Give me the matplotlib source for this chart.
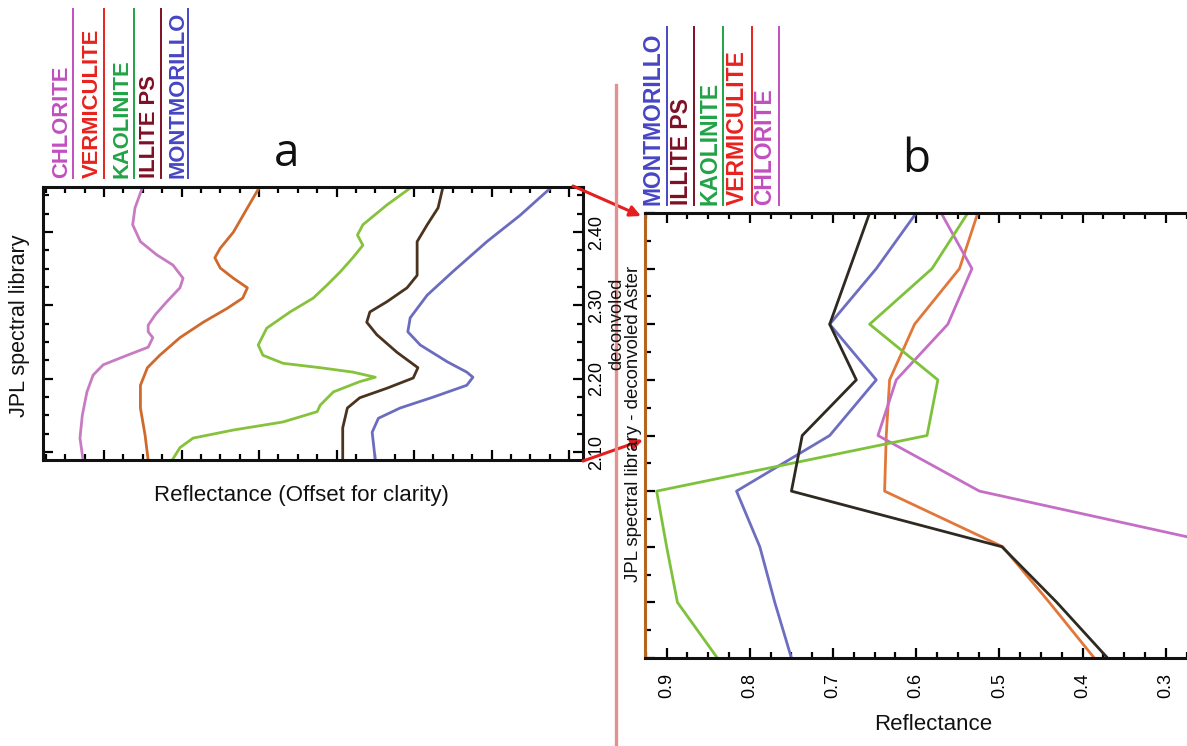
import numpy as np
import matplotlib
matplotlib.use("Agg")
import matplotlib.pyplot as plt
from matplotlib.ticker import MultipleLocator, FormatStrFormatter, NullFormatter
from matplotlib.patches import FancyArrowPatch
from matplotlib.lines import Line2D

plt.rcParams['font.family'] = ['Liberation Sans', 'DejaVu Sans']

# ---------------- data : panel a (JPL library, offset reflectance) ----------------
chl_a_wl = [2.462, 2.433, 2.410, 2.387, 2.369, 2.355, 2.337, 2.324, 2.305, 2.287, 2.273,
            2.264, 2.256, 2.243, 2.232, 2.219, 2.205, 2.182, 2.150, 2.119, 2.089]
chl_a_x = [0.50, 0.40, 0.37, 0.47, 0.68, 0.89, 1.02, 0.98, 0.81, 0.66, 0.57,
           0.57, 0.63, 0.57, 0.30, -0.01, -0.14, -0.22, -0.28, -0.31, -0.27]

ver_a_wl = [2.462, 2.433, 2.400, 2.378, 2.365, 2.351, 2.337, 2.324, 2.310, 2.296, 2.277,
            2.256, 2.232, 2.215, 2.191, 2.160, 2.123, 2.089]
ver_a_x = [2.01, 1.85, 1.67, 1.50, 1.43, 1.50, 1.67, 1.85, 1.79, 1.59, 1.28,
           0.98, 0.72, 0.56, 0.47, 0.47, 0.53, 0.57]

kao_a_wl = [2.460, 2.437, 2.410, 2.396, 2.382, 2.365, 2.346, 2.328, 2.310, 2.291, 2.269,
            2.246, 2.232, 2.221, 2.215, 2.209, 2.202, 2.196, 2.182, 2.164, 2.155, 2.141,
            2.130, 2.119, 2.106, 2.089]
kao_a_x = [3.95, 3.65, 3.34, 3.27, 3.34, 3.21, 3.05, 2.88, 2.70, 2.40, 2.10,
           1.99, 2.05, 2.31, 2.79, 3.21, 3.50, 3.30, 2.96, 2.79, 2.75, 2.31,
           1.67, 1.15, 0.98, 0.88]

ill_a_wl = [2.460, 2.433, 2.410, 2.387, 2.355, 2.341, 2.324, 2.305, 2.291, 2.277, 2.260,
            2.236, 2.215, 2.201, 2.187, 2.174, 2.160, 2.133, 2.089]
ill_a_x = [4.37, 4.31, 4.17, 4.04, 4.04, 4.04, 3.91, 3.65, 3.43, 3.39, 3.52,
           3.78, 4.05, 3.99, 3.65, 3.30, 3.14, 3.08, 3.08]

mon_a_wl = [2.460, 2.423, 2.387, 2.346, 2.314, 2.283, 2.264, 2.246, 2.223, 2.209, 2.202,
            2.191, 2.175, 2.160, 2.146, 2.127, 2.089]
mon_a_x = [5.76, 5.37, 4.94, 4.50, 4.17, 3.95, 3.92, 4.08, 4.43, 4.68, 4.76,
           4.68, 4.25, 3.82, 3.54, 3.46, 3.50]

a_yticks = [2.10, 2.20, 2.30, 2.40]

# ---------------- data : panel b (deconvolved) ----------------
b_levels = [8, 7, 6, 5, 4, 3, 2, 1, 0]
mon_b = [0.600, 0.648, 0.704, 0.648, 0.704, 0.816, 0.788, 0.770, 0.750]
ill_b = [0.656, 0.680, 0.704, 0.672, 0.737, 0.750, 0.497, 0.431, 0.370]
kao_b = [0.538, 0.581, 0.656, 0.574, 0.587, 0.912, 0.900, 0.887, 0.839]
ver_b = [0.526, 0.548, 0.602, 0.632, 0.636, 0.638, 0.496, 0.440, 0.386]
chl_b = [0.570, 0.533, 0.562, 0.624, 0.646, 0.524, 0.220, np.nan, np.nan]
b_xticks = [0.9, 0.8, 0.7, 0.6, 0.5, 0.4, 0.3]

legend_a = ["CHLORITE", "VERMICULITE", "KAOLINITE", "ILLITE PS", "MONTMORILLO"]
legend_b = ["MONTMORILLO", "ILLITE PS", "KAOLINITE", "VERMICULITE", "CHLORITE"]
label_colors = {"CHLORITE": "#c24fc0", "VERMICULITE": "#e8221e", "KAOLINITE": "#22a346",
                "ILLITE PS": "#7e0f25", "MONTMORILLO": "#4646c6"}

# ---------------- figure ----------------
W, H = 1187, 746
fig = plt.figure(figsize=(W / 100, H / 100), dpi=100)
fig.patch.set_facecolor("white")


def fx(x):
    return x / W


def fy(y):
    return 1 - y / H


# ---------- panel a ----------
axa = fig.add_axes([fx(43), fy(460), 540 / W, 273 / H])
axa.plot(chl_a_x, chl_a_wl, color="#c77cc2", lw=2.0, solid_joinstyle="round")
axa.plot(ver_a_x, ver_a_wl, color="#cf6a2c", lw=2.0, solid_joinstyle="round")
axa.plot(kao_a_x, kao_a_wl, color="#86c23c", lw=2.0, solid_joinstyle="round")
axa.plot(ill_a_x, ill_a_wl, color="#4a3420", lw=2.0, solid_joinstyle="round")
axa.plot(mon_a_x, mon_a_wl, color="#6c6cbf", lw=2.0, solid_joinstyle="round")
axa.set_xlim(-0.787, 6.18)
axa.set_ylim(2.0891, 2.4615)
axa.xaxis.set_major_locator(MultipleLocator(1))
axa.xaxis.set_minor_locator(MultipleLocator(0.25))
axa.set_yticks(a_yticks)
axa.yaxis.set_minor_locator(MultipleLocator(0.025))
axa.yaxis.set_major_formatter(FormatStrFormatter("%.2f"))
axa.tick_params(axis="both", which="both", direction="in", top=True, bottom=True,
                left=True, right=True, labelbottom=False, labelleft=False,
                labelright=True, color="black", width=1.6)
axa.tick_params(which="major", length=7)
axa.tick_params(which="minor", length=4)
axa.tick_params(axis="y", which="major", labelsize=13, labelrotation=90, pad=4)
for lab in axa.get_yticklabels():
    lab.set_va("center")
for s in axa.spines.values():
    s.set_linewidth(2.2)
    s.set_color("#111111")

# ---------- panel b ----------
axb = fig.add_axes([fx(645), fy(658), 604 / W, 445 / H])
axb.plot(mon_b, b_levels, color="#6d6dc2", lw=2.0)
axb.plot(ver_b, b_levels, color="#e2773a", lw=2.0)
axb.plot(chl_b, b_levels, color="#c46ec6", lw=2.0)
axb.plot(kao_b, b_levels, color="#7ec23c", lw=2.0)
axb.plot(ill_b, b_levels, color="#2e2a22", lw=2.0)
axb.set_xlim(0.926, 0.2)
axb.set_ylim(0, 8)
axb.set_xticks(b_xticks)
axb.xaxis.set_minor_locator(MultipleLocator(0.025))
axb.xaxis.set_major_formatter(FormatStrFormatter("%.1f"))
axb.yaxis.set_major_locator(MultipleLocator(1))
axb.yaxis.set_minor_locator(MultipleLocator(0.5))
axb.yaxis.set_major_formatter(NullFormatter())
axb.tick_params(axis="both", which="both", direction="in", top=True, bottom=True,
                left=True, right=False, labelleft=False, color="black", width=1.6)
axb.tick_params(which="major", length=7)
axb.tick_params(which="minor", length=4)
axb.tick_params(axis="x", which="major", labelsize=13, labelrotation=90, pad=11)
for s in axb.spines.values():
    s.set_linewidth(2.2)
    s.set_color("#111111")
axb.spines["left"].set_color("#b5651d")
axb.spines["right"].set_visible(False)

# ---------- texts ----------
fig.text(fx(20), fy(326), "JPL spectral library", rotation=90, ha="center", va="center",
         fontsize=15.5, color="#111111")
fig.text(fx(301), fy(496), "Reflectance (Offset for clarity)", ha="center", va="center",
         fontsize=16, color="#111111")
fig.text(fx(933), fy(724), "Reflectance", ha="center", va="center", fontsize=16,
         color="#111111")
fig.text(fx(617), fy(324), "deconvoled", rotation=90, ha="center", va="center",
         fontsize=13, color="#111111")
fig.text(fx(634), fy(424), "JPL spectral library - deconvoled Aster", rotation=90,
         ha="center", va="center", fontsize=13.4, color="#111111")
fig.text(fx(287), fy(166), "a", ha="center", va="baseline", fontsize=33,
         family="Open Sans", color="#111111")
fig.text(fx(916), fy(172), "b", ha="center", va="baseline", fontsize=33,
         family="Open Sans", color="#111111")

# ---------- vertical separator ----------
fig.add_artist(Line2D([fx(616), fx(616)], [fy(85), fy(746)], transform=fig.transFigure,
                      color="#e3908f", lw=2.4))

# ---------- legends (rotated labels with lines) ----------
a_text_x = [62, 92, 122, 150, 178]
a_line_x = [73, 104, 134, 161, 188]
for name, tx, lx in zip(legend_a, a_text_x, a_line_x):
    c = label_colors[name]
    fig.text(fx(tx), fy(178), name, rotation=90, ha="center", va="bottom",
             fontsize=15.8, fontweight="bold", color=c)
    fig.add_artist(Line2D([fx(lx), fx(lx)], [fy(9), fy(178)], transform=fig.transFigure,
                          color=c, lw=1.4))

b_text_x = [653, 682, 710, 737, 765]
b_line_x = [667, 694, 723, 752, 779]
for name, tx, lx in zip(legend_b, b_text_x, b_line_x):
    c = label_colors[name]
    fig.text(fx(tx), fy(205), name, rotation=90, ha="center", va="bottom",
             fontsize=16.5, fontweight="bold", color=c)
    fig.add_artist(Line2D([fx(lx), fx(lx)], [fy(27), fy(205)], transform=fig.transFigure,
                          color=c, lw=1.4))

# ---------- arrows ----------
for (x0, y0), (x1, y1) in [((573, 186), (641, 216)), ((583, 461), (643, 440))]:
    fig.add_artist(FancyArrowPatch((fx(x0), fy(y0)), (fx(x1), fy(y1)),
                                   transform=fig.transFigure, arrowstyle="-|>",
                                   mutation_scale=16, color="#e61e1e", lw=2.2,
                                   shrinkA=0, shrinkB=0))

fig.savefig("out.png", dpi=100, facecolor="white")
